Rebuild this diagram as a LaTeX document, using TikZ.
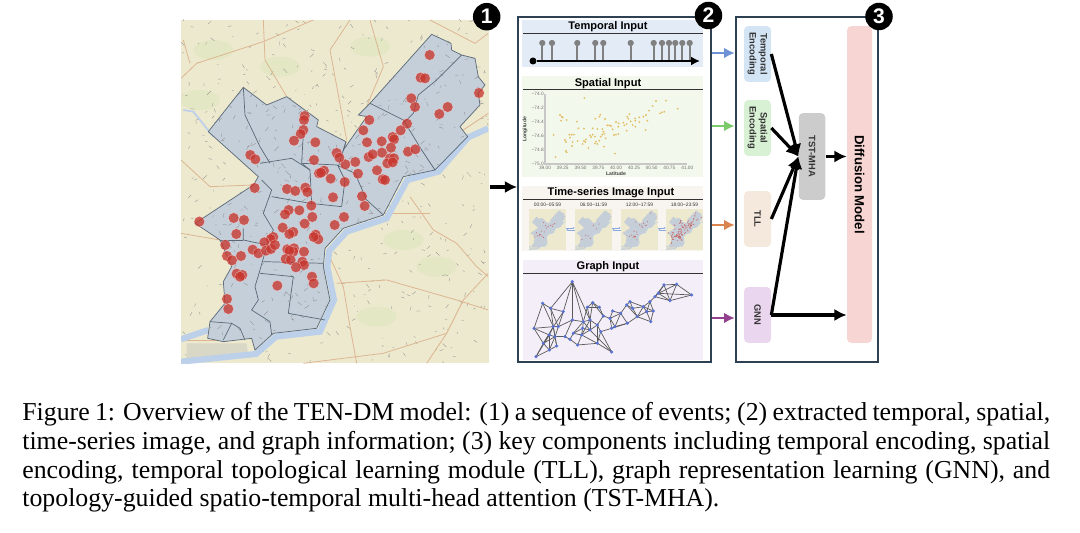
\documentclass[tikz,border=0pt]{standalone}
\usepackage{fontspec}
\setmainfont{Liberation Serif}
\setsansfont{Liberation Sans}
\usetikzlibrary{arrows.meta}

\definecolor{mapbase}{HTML}{EDE9CF}
\definecolor{mapgreen}{HTML}{E3E7C4}
\definecolor{maproad}{HTML}{DDB591}
\definecolor{mapriver}{HTML}{BCD0EA}
\definecolor{mapfield}{HTML}{D9D8C6}
\definecolor{cityfill}{HTML}{C5CFDA}
\definecolor{cityline}{HTML}{5A6877}
\definecolor{eventred}{HTML}{C8362E}
\definecolor{framedark}{HTML}{2E4152}
\definecolor{tempbg}{HTML}{E3ECF6}
\definecolor{spatbg}{HTML}{F2F8EB}
\definecolor{timebg}{HTML}{F8F4EF}
\definecolor{graphbg}{HTML}{F3EEF7}
\definecolor{tempblue}{HTML}{6D93D6}
\definecolor{spatgreen}{HTML}{7CCB6B}
\definecolor{tllorange}{HTML}{DA8550}
\definecolor{gnnpurple}{HTML}{93408F}
\definecolor{plotdot}{HTML}{E3BE66}
\definecolor{graphnode}{HTML}{5A72D6}
\definecolor{tempfill}{HTML}{D3E5F5}
\definecolor{spatfill}{HTML}{D8F0D4}
\definecolor{tllfill}{HTML}{F5E8DC}
\definecolor{gnnfill}{HTML}{EAD6EE}
\definecolor{mhafill}{HTML}{CCCCCC}
\definecolor{difffill}{HTML}{F6D5D2}

\def\eventlist{779/165,752/233,765/235,927/279,724/295,735/321,833/321,808/342,598/360,711/371,692/391,580/391,668/411,672/418,635/424,591/427,663/443,636/458,714/455,736/448,596/471,608/463,660/475,672/475,652/490,668/487,621/511,638/538,645/540,556/486,526/493,564/521,500/459,508/473,404/348,402/360,400/390,392/402,372/422,436/427,432/480,241/465,256/478,462/512,447/520,453/518,482/536,524/546,254/564,351/567,376/573,406/563,412/576,489/592,576/589,584/618,424/617,356/630,345/643,388/631,427/651,522/651,494/675,404/671,338/683,88/665,191/654,222/660,199/702,370/696,358/702,437/704,445/718,431/711,310/711,302/717,283/727,166/735,248/749,265/760,288/752,303/747,315/735,213/768,171/768,186/781,352/748,372/745,370/755,402/755,358/752,347/777,362/780,397/785,402/795,378/802,200/821,217/825,210/830,426/830,431/850,322/857,171/897,175/927}

\def\citypoly{(785,103) -- (843,130) -- (845,150) -- (875,165) -- (915,175) -- (925,230) -- (945,255) -- (925,280) -- (930,315) -- (870,380) -- (893,410) -- (795,510) -- (700,530) -- (640,645) -- (520,685) -- (465,745) -- (460,800) -- (480,900) -- (440,985) -- (310,1000) -- (255,1050) -- (245,1015) -- (160,1025) -- (113,1015) -- (120,965) -- (165,910) -- (160,845) -- (185,800) -- (150,720) -- (75,670) -- (250,555) -- (265,530) -- (115,395) -- (220,262) -- (290,315) -- (350,290) -- (445,360) -- (440,380) -- (528,425) -- (520,450) -- (590,350) -- (565,345) -- (600,310) -- cycle}

% City outline with river, drawn in the coordinates of the map
\newcommand{\cityshape}{
	\fill[mapfield] (50,1030) -- (230,1030) -- (235,1070) -- (50,1078) -- cycle;
	\draw[riverline] (955,385) -- (895,412) -- (805,515) -- (712,540) -- (650,655) -- (530,695) -- (478,752) -- (472,800) -- (492,900) -- (450,995) -- (318,1010) -- (258,1062) -- (33,1085);
	\draw[riverline] (33,1018) -- (115,990);
	\fill[cityfill] \citypoly;
}
\newcommand{\cityedges}{
	\draw[cityedge] \citypoly;
	\draw[cityedge] (600,310) -- (700,360) -- (755,450) -- (795,510);
	\draw[cityedge] (875,165) -- (800,240) -- (745,285) -- (730,340) -- (700,370);
	\draw[cityedge] (220,262) -- (225,345) -- (270,440) -- (300,490);
	\draw[cityedge] (400,400) -- (395,490) -- (420,510) -- (425,610);
	\draw[cityedge] (528,425) -- (505,500) -- (525,540) -- (515,620);
	\draw[cityedge] (270,490) -- (365,475) -- (420,510);
	\draw[cityedge] (395,490) -- (500,495) -- (555,520) -- (590,600) -- (640,645);
	\draw[cityedge] (305,590) -- (420,610) -- (515,620);
	\draw[cityedge] (275,540) -- (305,570) -- (280,640) -- (310,690) -- (290,740) -- (270,810) -- (255,860) -- (265,900) -- (245,930) -- (300,965) -- (305,1005);
	\draw[cityedge] (220,685) -- (220,720) -- (290,735);
	\draw[cityedge] (150,720) -- (220,720);
	\draw[cityedge] (280,785) -- (460,790);
	\draw[cityedge] (270,820) -- (370,830) -- (355,940) -- (465,960);
	\draw[cityedge] (120,965) -- (185,970) -- (160,1020);
	\draw[cityedge] (185,970) -- (210,985) -- (225,1020);
}

% Small copy of the map for the time-series strip
\newcommand{\thumbmap}[3]{
	\begin{scope}[shift={(#1,#2)}, x=0.0008cm, y=-0.0008cm,
		riverline/.style={draw=mapriver, line width=0.4pt},
		cityedge/.style={draw=cityline!35, line width=0.08pt}]
		\fill[mapbase] (33,60) rectangle (955,1090);
		\clip (33,60) rectangle (955,1090);
		\cityshape
		\cityedges
		\foreach \x/\y in #3 {
			\fill[eventred, fill opacity=0.6] (\x,\y) circle [radius=15];
		}
	\end{scope}
}

\begin{document}
\begin{tikzpicture}[
	x=0.02cm, y=-0.02cm,
	every node/.style={font=\sffamily\bfseries},
	mapbg/.style={fill=mapbase, minimum width=6.16cm, minimum height=6.86cm, inner sep=0},
	riverline/.style={draw=mapriver, line width=3.5pt},
	cityedge/.style={draw=cityline, line width=0.4pt},
	roadline/.style={draw=maproad, line width=0.45pt},
	speckle/.style={draw=black!45, line width=0.18pt},
	eventdot/.style={fill=eventred, fill opacity=0.78, draw=white, draw opacity=0.45, line width=0.25pt},
	badge/.style={circle, fill=black, text=white, minimum size=0.55cm, inner sep=0, font=\sffamily\bfseries\fontsize{12}{12}\selectfont},
	panel/.style={draw=framedark, line width=1pt, inner sep=0},
	inputbg/.style={minimum width=3.62cm, inner sep=0},
	inputtitle/.style={font=\sffamily\bfseries\fontsize{6.3}{7}\selectfont, inner sep=0},
	titlerule/.style={draw=black!80, line width=0.6pt},
	ticklabel/.style={text=black!55, font=\sffamily\fontsize{2.7}{3}\selectfont, inner sep=0},
	axislabel/.style={text=black!75, font=\sffamily\bfseries\fontsize{2.9}{3}\selectfont, inner sep=0},
	stemhead/.style={circle, fill=black!50, minimum size=0.125cm, inner sep=0},
	thumbframe/.style={minimum width=0.74cm, minimum height=0.82cm, inner sep=0},
	thumblabel/.style={text=black!80, font=\sffamily\fontsize{2.8}{3}\selectfont, inner sep=0},
	thumbarrow/.style={-{Latex[length=1pt,width=1.2pt]}, draw=tempblue!80, line width=0.25pt},
	gnode/.style={circle, fill=graphnode, minimum size=0.07cm, inner sep=0},
	gedge/.style={draw=black!65, line width=0.4pt},
	block/.style={rounded corners=2.5pt, minimum width=1.12cm, minimum height=0.54cm, inner sep=0, align=center, rotate=-90, font=\sffamily\bfseries\fontsize{5.3}{6.2}\selectfont, text=black!80},
	feedarrow/.style={-{Latex[length=6pt,width=6pt]}, line width=1.4pt},
	flowarrow/.style={-{Latex[length=7pt,width=7pt]}, draw=black, line width=1.8pt}
	]
	\useasboundingbox (0,0) rectangle (1080,533);
	
	% Event map
	\node[mapbg] (citymap) at (335,191.5) {};
	\begin{scope}[shift={(170,0)}, x=0.02cm/3, y=-0.02cm/3]
		\clip (33,60) rectangle (955,1090);
		\foreach \x/\y in {130/150, 330/200, 90/300, 600/140, 800/800, 620/950, 700/720} {
			\fill[mapgreen] (\x,\y) ellipse [x radius=60, y radius=30];
		}
		\pgfmathsetseed{11}
		\foreach \i in {1,...,450} {
			\pgfmathsetmacro{\rx}{33+922*rnd}
			\pgfmathsetmacro{\ry}{60+1030*rnd}
			\pgfmathsetmacro{\rdx}{-12+24*rnd}
			\pgfmathsetmacro{\rdy}{-12+24*rnd}
			\draw[speckle] (\rx,\ry) -- +(\rdx,\rdy);
		}
		\draw[roadline] (33,235) -- (80,190) -- (280,125) -- (430,60);
		\draw[roadline] (60,190) -- (40,120);
		\draw[roadline] (280,60) -- (285,180) -- (350,290);
		\draw[roadline] (540,60) -- (480,150) -- (530,420);
		\draw[roadline] (780,60) -- (915,130) -- (955,100);
		\draw[roadline] (955,820) -- (880,900) -- (830,1000) -- (770,1090);
		\draw[roadline] (470,750) -- (520,860) -- (540,980) -- (560,1090);
		\draw[roadline] (720,590) -- (790,690) -- (860,730) -- (920,800) -- (955,830);
		\draw[roadline] (500,850) -- (650,840) -- (860,900) -- (955,930);
		\draw[roadline] (620,640) -- (780,640);
		\draw[roadline] (33,700) -- (150,720);
		\draw[roadline] (33,1020) -- (160,1020);
		\draw[roadline] (400,1090) -- (640,1060) -- (830,1000);
		\draw[roadline] (955,340) -- (880,390);
		\draw[roadline] (33,480) -- (120,560) -- (250,555);
		\draw[roadline] (600,60) -- (640,200) -- (590,320);
		\draw[mapriver, line width=1pt] (40,330) -- (70,335) -- (130,410);
		\cityshape
		\begin{scope}
			\clip \citypoly;
			\foreach \i in {1,...,600} {
				\pgfmathsetmacro{\rx}{75+870*rnd}
				\pgfmathsetmacro{\ry}{103+950*rnd}
				\pgfmathsetmacro{\rdx}{-14+28*rnd}
				\pgfmathsetmacro{\rdy}{-14+28*rnd}
				\draw[speckle] (\rx,\ry) -- +(\rdx,\rdy);
			}
		\end{scope}
		\cityedges
		\foreach \x/\y in \eventlist {
			\path[eventdot] (\x,\y) circle [radius=16];
		}
	\end{scope}
	
	% Panels
	\node[panel, minimum width=3.86cm, minimum height=6.9cm] (panelb) at (614.5,189.5) {};
	\node[panel, minimum width=2.84cm, minimum height=6.9cm] (panelc) at (807,189.5) {};
	
	% Temporal input
	\node[inputbg, fill=tempbg, minimum height=0.94cm] (tempin) at (612.5,43.5) {};
	\node[inputtitle] (temptitle) at (608,27) {Temporal Input};
	\draw[titlerule] (523,33.5) -- (703,33.5);
	\node[circle, fill=black, minimum size=0.14cm, inner sep=0] (timestart) at (533,61) {};
	\coordinate (timeend) at (700,61);
	\foreach \x [count=\i] in {542.3, 552, 577.3, 595.3, 603.3, 630.7, 653.7, 662, 669, 675.3, 682.3, 689.7} {
		\node[stemhead] (stem\i) at (\x,43) {};
		\draw[draw=black!50, line width=1.2pt] (stem\i) -- (\x,61);
	}
	\draw[-{Latex[length=5pt,width=5pt]}, line width=1.4pt] (timestart) -- (timeend);
	
	% Spatial input
	\node[inputbg, fill=spatbg, minimum height=2.02cm] (spatin) at (612.5,126.5) {};
	\node[inputtitle] (spattitle) at (608,84) {Spatial Input};
	\draw[titlerule] (523,89.5) -- (703,89.5);
	\begin{scope}[shift={(510,0)}, x=0.02cm/3, y=-0.02cm/3]
		\draw[draw=black!22, line width=1pt] (105,282) -- (105,493) -- (532,493);
		\foreach \y/\l [count=\i] in {282/74.0, 324/74.2, 366/74.4, 408/74.6, 451/74.8, 493/75.0} {
			\node[ticklabel, anchor=east] (lon\i) at (102,\y) {−\l};
		}
		\foreach \x/\l [count=\i] in {105/39.00, 158/39.25, 212/39.50, 265/39.75, 318/40.00, 372/40.25, 425/40.50, 478/40.75, 532/41.00} {
			\node[ticklabel] (lat\i) at (\x,505) {\l};
		}
		\node[axislabel, rotate=90] (lonlabel) at (45,388) {Longitude};
		\node[axislabel] (latlabel) at (318,522) {Latitude};
		\foreach \x/\y in {223/294,438/303,468/302,503/326,428/318,150/345,155/350,158/352,153/362,170/360,201/365,205/385,222/386,131/405,178/404,185/404,192/404,180/413,165/420,168/426,188/426,186/438,203/423,222/423,228/418,226/426,218/432,168/453,170/457,137/471,235/444,248/385,248/404,243/411,240/406,255/410,262/387,277/387,256/356,268/350,271/344,285/357,277/404,272/410,280/395,283/401,287/415,282/440,268/422,258/425,262/432,255/430,292/376,298/376,303/378,308/388,312/405,318/404,325/402,318/366,326/370,340/368,343/376,325/380,315/461,350/392,352/350,358/342,355/356,362/364,368/375,376/380,375/355,376/362,388/352,388/366,400/350,408/345,417/332,407/390,412/362,450/340,456/337,463/335,350/372} {
			\fill[plotdot] (\x,\y) circle [radius=3.2];
		}
	\end{scope}
	
	% Time-series image input
	\node[inputbg, fill=timebg, minimum height=1.3cm] (timein) at (612.5,218.5) {};
	\node[inputtitle] (timetitle) at (611,193) {Time-series Image Input};
	\draw[titlerule] (523,199.5) -- (703,199.5);
	\foreach \n/\x/\l in {1/547.5/00:00--05:59, 2/593.5/06:00--11:59, 3/639.5/12:00--17:59, 4/684.5/18:00--23:59} {
		\node[thumbframe] (thumb\n) at (\x,229) {};
		\node[thumblabel] (slot\n) at (\x,205) {\l};
	}
	\thumbmap{527.7}{206.6}{{400/400,450/480,520/500,580/470,640/450,300/700,360/750,420/640,220/660,170/770,300/730,400/780,620/500,680/430,480/540,350/620,250/740,330/700}}
	\thumbmap{573.7}{206.6}{{500/470,640/440,360/740,420/800,300/720,580/560,210/830}}
	\thumbmap{619.7}{206.6}{{500/460,600/420,670/470,700/380,580/520,360/750,372/745,380/770,300/720,430/840,420/640,250/750,400/390,780/165,640/470,550/490,360/620,440/700,340/770,400/760}}
	\thumbmap{664.7}{206.6}{\eventlist}
	\foreach \a/\b in {1/2, 2/3, 3/4} {
		\draw[thumbarrow] ([yshift=0.02cm]thumb\a.east) -- ([yshift=0.02cm]thumb\b.west);
		\draw[thumbarrow] ([yshift=-0.02cm]thumb\b.west) -- ([yshift=-0.02cm]thumb\a.east);
	}
	
	% Graph input
	\node[inputbg, fill=graphbg, minimum height=2cm] (graphin) at (613,310) {};
	\node[inputtitle] (graphtitle) at (608,267) {Graph Input};
	\draw[titlerule] (523,273.5) -- (703,273.5);
	\begin{scope}[shift={(510,180)}, x=0.02cm/3, y=-0.02cm/3]
		\foreach \x/\y [count=\i] in {187/305,98/370,122/385,160/395,72/445,130/440,145/440,118/465,135/470,100/490,118/510,78/530,140/498,187/420,165/470,180/478,203/495,190/460,220/425,240/420,262/435,240/450,218/445,215/465,262/490,272/455,305/516,248/368,232/382,268/382,280/408,300/415,305/445,315/440,308/393,332/400,352/430,350/375,360/365,368/385,382/410,400/380,420/365,430/393,422/425,410/395,435/350,462/315,500/313,545/345,480/362,445/340} {
			\coordinate (g\i) at (\x,\y);
		}
		\foreach \a/\b in {1/3,1/4,1/14,1/19,1/20,2/3,2/5,2/6,3/4,3/6,3/7,4/6,4/7,5/6,5/8,5/10,6/7,6/8,6/9,6/10,6/13,7/9,7/14,8/9,8/10,8/11,8/12,9/10,9/11,9/13,9/15,10/11,10/12,11/12,11/13,14/15,14/19,15/16,16/17,16/18,17/24,17/25,18/19,18/23,18/24,19/20,19/22,19/23,19/29,20/21,20/22,20/24,20/28,20/29,21/22,21/25,21/26,21/31,22/23,22/24,22/27,23/24,24/25,25/26,25/27,26/27,26/33,28/29,28/30,28/31,29/30,30/31,31/32,32/33,32/34,32/35,32/36,33/34,33/37,34/36,34/37,35/36,36/37,36/38,37/41,38/39,38/40,38/41,39/40,39/42,40/41,40/42,41/42,41/45,41/46,42/43,42/44,42/46,43/44,43/46,43/47,44/45,44/46,45/46,47/48,47/51,47/52,48/49,48/51,48/52,49/50,49/51,49/52,50/51,50/52,51/52} {
			\draw[gedge] (g\a) -- (g\b);
		}
		\foreach \i in {1,...,52} {
			\node[gnode] (gn\i) at (g\i) {};
		}
	\end{scope}
	
	% Model blocks
	\node[block, fill=tempfill] (tempenc) at (757.5,54) {Temporal\\Encoding};
	\node[block, fill=spatfill] (spatenc) at (757.5,128) {Spatial\\Encoding};
	\node[block, fill=tllfill] (tll) at (757.5,219) {TLL};
	\node[block, fill=gnnfill] (gnn) at (757.5,315) {GNN};
	\node[block, fill=mhafill, minimum width=1.74cm, minimum height=0.53cm] (tstmha) at (812,156.5) {TST-MHA};
	\node[block, fill=difffill, minimum width=6.34cm, minimum height=0.5cm, font=\sffamily\bfseries\fontsize{7.5}{9}\selectfont, text=black] (diffusion) at (859.5,184.5) {Diffusion Model};
	
	% Arrows between panels
	\node[inner sep=0] (feedtemp) at (736,53) {};
	\node[inner sep=0] (feedspat) at (736,126) {};
	\node[inner sep=0] (feedtime) at (736,225) {};
	\node[inner sep=0] (feedgraph) at (736,318) {};
	\draw[feedarrow, tempblue] (panelb.east |- feedtemp) -- (feedtemp);
	\draw[feedarrow, spatgreen] (panelb.east |- feedspat) -- (feedspat);
	\draw[feedarrow, tllorange] (panelb.east |- feedtime) -- (feedtime);
	\draw[feedarrow, gnnpurple] (panelb.east |- feedgraph) -- (feedgraph);
	\node[inner sep=0] (mapout) at (489,187) {};
	\draw[flowarrow] (mapout) -- (panelb.west |- mapout);
	
	% Arrows between blocks
	\foreach \x in {tempenc, spatenc, tll, gnn} {
		\draw[flowarrow] (\x.north) -- (tstmha.south);
	}
	\draw[flowarrow] (tstmha.north) -- (tstmha.north -| diffusion.south);
	\draw[flowarrow] (gnn.north) -- (gnn.north -| diffusion.south);
	
	% Badges
	\node[badge] (badgea) at (486.7,16.7) {1};
	\node[badge] (badgeb) at (708.5,15.5) {2};
	\node[badge] (badgec) at (879,16.5) {3};
	
	% Caption
	\node[anchor=north west, inner sep=0, text width=20.56cm, align=justify, font=\rmfamily\mdseries\fontsize{14.7}{16.4}\selectfont] (caption) at (22,402) {Figure 1: Overview of the TEN-DM model: (1) a sequence of events; (2) extracted temporal, spatial,\linebreak time-series image, and graph information; (3) key components including temporal encoding, spatial\linebreak encoding, temporal topological learning module (TLL), graph representation learning (GNN), and\linebreak topology-guided spatio-temporal multi-head attention (TST-MHA).};
	
\end{tikzpicture}
\end{document}
